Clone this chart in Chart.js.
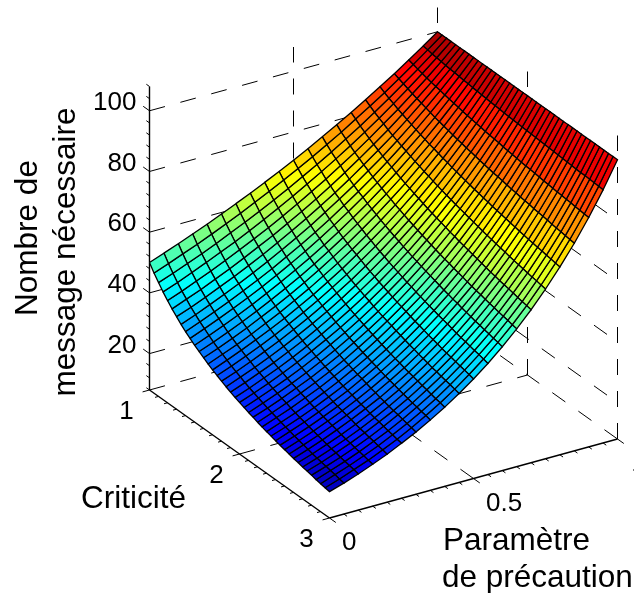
<!DOCTYPE html>
<html>
<head>
<meta charset="utf-8">
<title>Nombre de message nécessaire</title>
<script src="https://cdn.jsdelivr.net/npm/chart.js@4/dist/chart.umd.min.js"></script>
<style>
html, body { margin: 0; padding: 0; background: #fff; overflow: hidden; }
canvas { display: block; }
</style>
</head>
<body>
<canvas id="surface" width="634" height="593"></canvas>
<script>
var criticite = [1, 1.05, 1.1, 1.15, 1.2, 1.25, 1.3, 1.35, 1.4, 1.45, 1.5, 1.55, 1.6, 1.65, 1.7, 1.75, 1.8, 1.85, 1.9, 1.95, 2,
    2.05, 2.1, 2.15, 2.2, 2.25, 2.3, 2.35, 2.4, 2.45, 2.5, 2.55, 2.6, 2.65, 2.7, 2.75, 2.8, 2.85, 2.9, 2.95, 3];
var precaution = [0, 0.05, 0.1, 0.15, 0.2, 0.25, 0.3, 0.35, 0.4, 0.45, 0.5, 0.55, 0.6, 0.65, 0.7, 0.75, 0.8, 0.85, 0.9, 0.95, 1];

// one row per precaution value, one column per criticite value
var nombreMessages = [
    [50.0,47.6,45.5,43.5,41.7,40.0,38.5,37.0,35.7,34.5,33.3,32.3,31.3,30.3,29.4,28.6,27.8,27.0,26.3,25.6,25.0,24.4,23.8,23.3,22.7,22.2,21.7,21.3,20.8,20.4,20.0,19.6,19.2,18.9,18.5,18.2,17.9,17.5,17.2,16.9,16.7],
    [51.8,49.4,47.3,45.3,43.5,41.9,40.3,38.9,37.6,36.4,35.2,34.1,33.1,32.2,31.3,30.4,29.6,28.9,28.1,27.4,26.8,26.2,25.6,25.0,24.5,24.0,23.5,23.0,22.6,22.1,21.7,21.3,20.9,20.5,20.1,19.8,19.5,19.2,18.9,18.5,18.2],
    [53.6,51.3,49.2,47.3,45.5,43.8,42.3,40.9,39.6,38.4,37.2,36.1,35.1,34.1,33.3,32.4,31.6,30.8,30.1,29.4,28.7,28.1,27.5,26.9,26.4,25.8,25.3,24.8,24.4,23.9,23.5,23.1,22.7,22.3,21.9,21.6,21.2,20.9,20.6,20.3,19.9],
    [55.5,53.2,51.1,49.3,47.5,45.9,44.4,43.0,41.7,40.5,39.3,38.2,37.2,36.2,35.4,34.5,33.7,32.9,32.1,31.4,30.8,30.1,29.5,29.0,28.4,27.9,27.3,26.8,26.4,25.9,25.5,25.1,24.7,24.2,23.8,23.5,23.1,22.8,22.5,22.1,21.8],
    [57.4,55.2,53.2,51.4,49.7,48.0,46.5,45.2,43.9,42.7,41.5,40.4,39.5,38.5,37.6,36.7,35.9,35.1,34.4,33.6,33.0,32.3,31.7,31.1,30.6,30.0,29.5,29.0,28.5,28.0,27.6,27.2,26.8,26.3,25.9,25.6,25.2,24.9,24.5,24.2,23.8],
    [59.5,57.3,55.4,53.5,51.9,50.3,48.8,47.5,46.2,45.0,43.9,42.8,41.8,40.8,39.9,39.1,38.3,37.5,36.7,36.0,35.4,34.7,34.1,33.5,32.9,32.4,31.8,31.3,30.8,30.4,29.9,29.5,29.1,28.6,28.2,27.9,27.5,27.1,26.8,26.4,26.1],
    [61.6,59.5,57.6,55.8,54.2,52.7,51.2,49.9,48.6,47.5,46.4,45.3,44.3,43.4,42.5,41.6,40.8,40.0,39.3,38.6,37.9,37.3,36.6,36.0,35.4,34.9,34.4,33.8,33.4,32.9,32.4,32.0,31.5,31.1,30.7,30.3,30.0,29.6,29.2,28.9,28.5],
    [63.7,61.8,59.9,58.2,56.6,55.1,53.7,52.5,51.2,50.1,49.0,47.9,47.0,46.0,45.1,44.3,43.5,42.7,42.0,41.3,40.6,40.0,39.3,38.8,38.2,37.6,37.1,36.6,36.1,35.6,35.1,34.7,34.3,33.8,33.4,33.0,32.6,32.3,31.9,31.6,31.2],
    [66.0,64.1,62.3,60.7,59.1,57.7,56.4,55.1,53.9,52.8,51.7,50.7,49.8,48.9,48.0,47.2,46.4,45.6,44.9,44.2,43.5,42.9,42.3,41.7,41.1,40.6,40.0,39.5,39.0,38.5,38.1,37.6,37.2,36.8,36.4,36.0,35.6,35.2,34.8,34.5,34.1],
    [68.3,66.5,64.8,63.3,61.8,60.4,59.1,57.9,56.7,55.7,54.6,53.7,52.8,51.8,51.0,50.2,49.4,48.7,48.0,47.3,46.7,46.0,45.4,44.8,44.3,43.8,43.2,42.7,42.2,41.7,41.3,40.8,40.4,40.0,39.5,39.2,38.8,38.4,38.1,37.7,37.3],
    [70.7,69.0,67.4,66.0,64.6,63.2,62.0,60.9,59.7,58.8,57.7,56.8,55.9,55.0,54.3,53.5,52.7,52.0,51.3,50.6,50.0,49.4,48.8,48.2,47.7,47.2,46.6,46.1,45.7,45.2,44.7,44.3,43.9,43.4,43.0,42.7,42.3,41.9,41.6,41.2,40.8],
    [73.2,71.6,70.1,68.8,67.4,66.2,65.0,64.0,62.9,62.0,61.0,60.1,59.3,58.4,57.7,56.9,56.2,55.5,54.8,54.2,53.6,53.0,52.4,51.9,51.3,50.8,50.3,49.8,49.4,48.9,48.5,48.1,47.7,47.2,46.8,46.5,46.1,45.7,45.4,45.0,44.6],
    [75.8,74.3,72.9,71.7,70.5,69.3,68.2,67.2,66.2,65.4,64.4,63.6,62.8,62.0,61.3,60.6,59.9,59.3,58.6,58.0,57.4,56.9,56.3,55.8,55.3,54.8,54.3,53.8,53.4,52.9,52.6,52.1,51.7,51.3,50.9,50.6,50.2,49.9,49.5,49.2,48.8],
    [78.5,77.1,75.9,74.7,73.6,72.6,71.6,70.7,69.7,68.9,68.1,67.3,66.6,65.8,65.2,64.5,63.9,63.3,62.7,62.1,61.6,61.0,60.5,60.0,59.5,59.1,58.6,58.2,57.8,57.3,56.9,56.5,56.2,55.8,55.4,55.1,54.7,54.4,54.1,53.7,53.4],
    [81.2,80.1,78.9,77.9,76.9,76.0,75.1,74.2,73.4,72.7,71.9,71.2,70.5,69.9,69.3,68.7,68.1,67.5,67.0,66.5,66.0,65.5,65.0,64.6,64.1,63.7,63.3,62.9,62.5,62.1,61.7,61.3,61.0,60.6,60.3,60.0,59.7,59.3,59.0,58.7,58.4],
    [84.1,83.1,82.1,81.2,80.4,79.5,78.7,78.0,77.3,76.7,76.0,75.4,74.8,74.2,73.7,73.1,72.6,72.1,71.6,71.2,70.7,70.3,69.9,69.5,69.1,68.7,68.3,67.9,67.6,67.2,66.9,66.6,66.2,65.9,65.6,65.3,65.0,64.7,64.5,64.2,63.9],
    [87.1,86.2,85.4,84.7,83.9,83.3,82.6,82.0,81.4,80.8,80.3,79.7,79.3,78.8,78.3,77.9,77.4,77.0,76.6,76.2,75.8,75.4,75.1,74.7,74.4,74.0,73.7,73.4,73.1,72.8,72.5,72.2,71.9,71.6,71.4,71.1,70.9,70.6,70.4,70.1,69.9],
    [90.1,89.5,88.9,88.3,87.7,87.2,86.7,86.2,85.7,85.2,84.8,84.4,84.0,83.6,83.2,82.9,82.5,82.2,81.9,81.5,81.2,80.9,80.6,80.4,80.1,79.8,79.5,79.3,79.0,78.8,78.6,78.3,78.1,77.9,77.7,77.4,77.2,77.0,76.8,76.6,76.4],
    [93.3,92.9,92.4,92.0,91.6,91.2,90.9,90.6,90.2,89.9,89.6,89.3,89.0,88.7,88.5,88.2,88.0,87.7,87.5,87.3,87.1,86.8,86.6,86.4,86.2,86.0,85.8,85.7,85.5,85.3,85.1,85.0,84.8,84.6,84.5,84.3,84.2,84.0,83.9,83.7,83.6],
    [96.6,96.4,96.1,95.9,95.7,95.5,95.3,95.2,95.0,94.8,94.7,94.5,94.4,94.2,94.1,93.9,93.8,93.7,93.5,93.4,93.3,93.2,93.1,93.0,92.9,92.8,92.7,92.6,92.5,92.4,92.3,92.2,92.1,92.0,91.9,91.8,91.8,91.7,91.6,91.5,91.4],
    [100,100,100,100,100,100,100,100,100,100,100,100,100,100,100,100,100,100,100,100,100,100,100,100,100,100,100,100,100,100,100,100,100,100,100,100,100,100,100,100,100]
];

var zTicks = [20, 40, 60, 80, 100];
var zMinor = [8, 12, 16, 24, 28, 32, 36, 44, 48, 52, 56, 64, 68, 72, 76, 84, 88, 92, 96, 104, 108];
var critTicks = [1, 2, 3];
var critMinor = [1.1, 1.2, 1.3, 1.4, 1.5, 1.6, 1.7, 1.8, 1.9, 2.1, 2.2, 2.3, 2.4, 2.5, 2.6, 2.7, 2.8, 2.9];
var precTicks = [0, 0.5, 1];
var precTickLabels = ['0', '0.5', '1'];
var precMinor = [0.05, 0.1, 0.15, 0.2, 0.25, 0.3, 0.35, 0.4, 0.45, 0.55, 0.6, 0.65, 0.7, 0.75, 0.8, 0.85, 0.9, 0.95];

var zMin = 8, zMax = 108;
var colorMin = 12, colorMax = 100;

// orthographic view of the 3D box, in the units of the x/y scales
function project(c, p, z) {
    return {
        x: 149.5 + (c - 1) * 90 + p * 288,
        y: 390 + (c - 1) * 64 - p * 79 - (z - zMin) * 3.035
    };
}

// jet colormap
var jetStops = [
    [0, 0, 0, 0.5], [0.11, 0, 0, 1], [0.375, 0, 1, 1], [0.625, 1, 1, 0], [0.89, 1, 0, 0], [1, 0.5, 0, 0]
];
function jet(z) {
    var t = Math.max(0, Math.min(1, (z - colorMin) / (colorMax - colorMin)));
    for (var i = 1; i < jetStops.length; i++) {
        if (t <= jetStops[i][0]) {
            var a = jetStops[i - 1], b = jetStops[i];
            var f = (t - a[0]) / (b[0] - a[0]);
            return 'rgb(' + [1, 2, 3].map(function (n) {
                return Math.round(255 * (a[n] + (b[n] - a[n]) * f));
            }).join(',') + ')';
        }
    }
    return 'rgb(128,0,0)';
}

var datasets = [];

function addLine(points, dash, width) {
    datasets.push({
        data: points,
        showLine: true,
        fill: false,
        tension: 0,
        borderColor: '#000',
        borderWidth: width || 1,
        borderDash: dash || []
    });
}

// surface cells come first so they sit on top of the grid
for (var k = 0; k < precaution.length - 1; k++) {
    for (var j = 0; j < criticite.length - 1; j++) {
        var c0 = criticite[j], c1 = criticite[j + 1], p0 = precaution[k], p1 = precaution[k + 1];
        var a = project(c0, p0, nombreMessages[k][j]);
        datasets.push({
            data: [a, project(c1, p0, nombreMessages[k][j + 1]), project(c1, p1, nombreMessages[k + 1][j + 1]),
                project(c0, p1, nombreMessages[k + 1][j]), a],
            showLine: true,
            fill: 'shape',
            tension: 0,
            backgroundColor: jet(nombreMessages[k][j]),
            borderColor: '#000',
            borderWidth: 1.3
        });
    }
}

// dashed grid
var dash = [16, 16];
zTicks.forEach(function (z) {
    addLine([project(1, 0, z), project(1, 1, z)], dash);
    addLine([project(1, 1, z), project(3, 1, z)], dash);
});
addLine([project(1, 0, zMin), project(1, 1, zMin)], dash);
addLine([project(3, 1, zMin), project(1, 1, zMin)], dash);
addLine([project(2, 0, zMin), project(2, 1, zMin)], dash);
addLine([project(3, 0.5, zMin), project(1, 0.5, zMin)], dash);
addLine([project(1, 0.5, zMin), project(1, 0.5, zMax)], dash);
addLine([project(1, 1, zMin), project(1, 1, zMax)], dash);
addLine([project(2, 1, zMin), project(2, 1, zMax)], dash);
addLine([project(3, 1, zMin), project(3, 1, zMax)], dash);

// axes and tick marks
addLine([project(1, 0, zMin), project(1, 0, zMax)], null, 1.4);
addLine([project(1, 0, zMin), project(3, 0, zMin)], null, 1.4);
addLine([project(3, 0, zMin), project(3, 1, zMin)], null, 1.4);
zTicks.forEach(function (z) { addLine([project(0.93, 0, z), project(1, 0, z)]); });
zMinor.forEach(function (z) { addLine([project(0.965, 0, z), project(1, 0, z)]); });
critTicks.forEach(function (c) { addLine([project(c, -0.024, zMin), project(c, 0, zMin)]); });
critMinor.forEach(function (c) { addLine([project(c, -0.012, zMin), project(c, 0, zMin)]); });
precTicks.forEach(function (p) { addLine([project(3, p, zMin), project(3.07, p, zMin)]); });
precMinor.forEach(function (p) { addLine([project(3, p, zMin), project(3.035, p, zMin)]); });

var tickFont = '26px "Liberation Sans"';
var titleFont = '31.5px "Liberation Sans"';

var labelPlugin = {
    id: 'labels3d',
    afterDraw: function (chart) {
        var ctx = chart.ctx, sx = chart.scales.x, sy = chart.scales.y;
        function text(str, x, y, align) {
            ctx.textAlign = align || 'center';
            ctx.fillText(str, sx.getPixelForValue(x), sy.getPixelForValue(y));
        }
        ctx.save();
        ctx.fillStyle = '#000';
        ctx.textBaseline = 'middle';
        ctx.font = tickFont;
        zTicks.forEach(function (z) {
            var q = project(1, 0, z);
            text(String(z), q.x - 13, q.y - 8, 'right');
        });
        critTicks.forEach(function (c) {
            var q = project(c, 0, zMin);
            text(String(c), q.x - 23, q.y + 22);
        });
        precTicks.forEach(function (p, i) {
            var q = project(3, p, zMin);
            // the last label runs off the right edge, only its tip shows
            text(precTickLabels[i], q.x + (i == 2 ? 14 : 12.5), q.y + 25, 'left');
        });

        ctx.textBaseline = 'alphabetic';
        ctx.font = titleFont;
        text('Criticité', 81, 508, 'left');
        text('Paramètre', 443, 550, 'left');
        text('de précaution', 442, 587, 'left');

        ctx.textAlign = 'center';
        ctx.translate(sx.getPixelForValue(37), sy.getPixelForValue(238));
        ctx.rotate(-Math.PI / 2);
        ctx.fillText('Nombre de', 0, 0);
        ctx.fillText('message nécessaire', -14, 38);
        ctx.restore();
    }
};

new Chart(document.getElementById('surface').getContext('2d'), {
    type: 'scatter',
    data: { datasets: datasets },
    plugins: [labelPlugin],
    options: {
        responsive: false,
        animation: false,
        events: [],
        layout: { padding: 0 },
        elements: { point: { radius: 0 } },
        plugins: { legend: { display: false }, tooltip: { enabled: false }, title: { display: false } },
        scales: {
            x: { type: 'linear', display: false, min: 0, max: 634 },
            y: { type: 'linear', display: false, min: 0, max: 593, reverse: true }
        }
    }
});
</script>
</body>
</html>
